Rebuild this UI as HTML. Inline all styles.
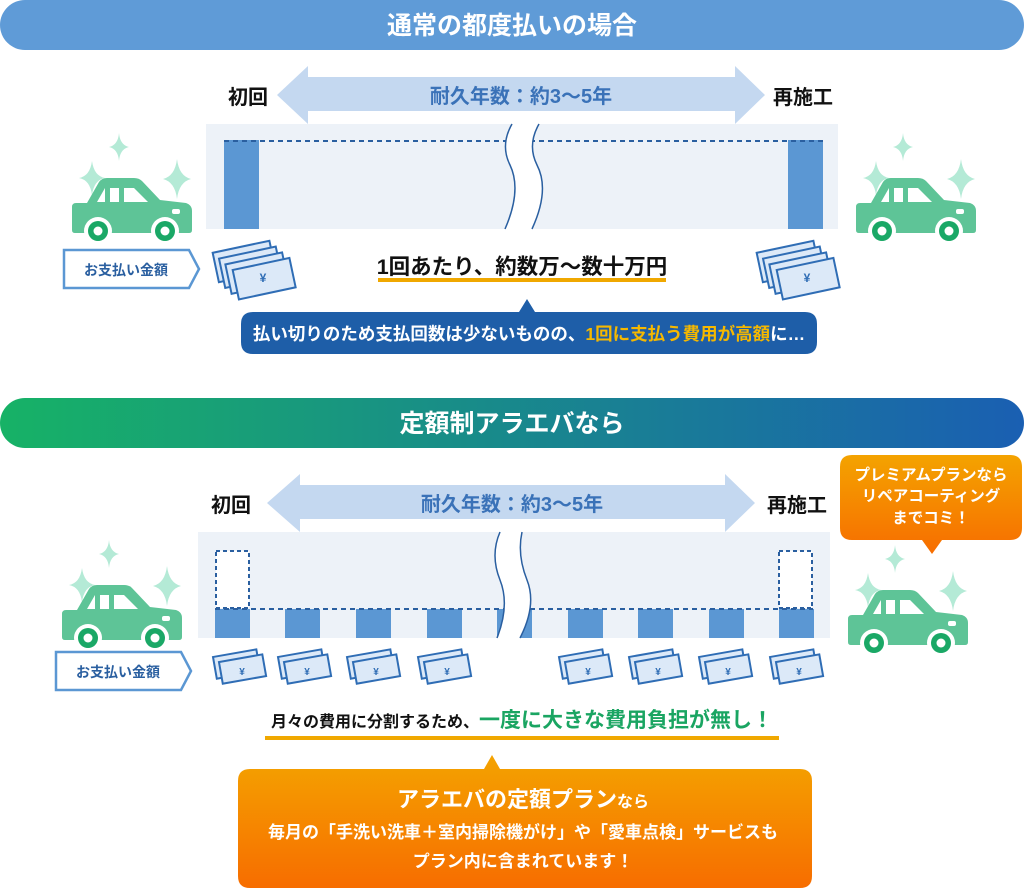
<!DOCTYPE html>
<html><head><meta charset="utf-8"><style>
html,body{margin:0;padding:0;background:#fff;width:1024px;height:889px;overflow:hidden}
text{font-family:"Liberation Sans","Noto Sans CJK JP",sans-serif;font-weight:bold}
</style></head><body>
<svg width="1024" height="889" viewBox="0 0 1024 889" xmlns="http://www.w3.org/2000/svg">
<defs>
<linearGradient id="g2" x1="0" x2="1" y1="0" y2="0"><stop offset="0" stop-color="#17b266"/><stop offset="1" stop-color="#1a5fb2"/></linearGradient>
<linearGradient id="go" x1="0" x2="0" y1="0" y2="1"><stop offset="0" stop-color="#f4a300"/><stop offset="1" stop-color="#f76d00"/></linearGradient>
<g id="car">
<path d="M20,28 Q22,43 33,45 Q22,47 20,62 Q18,47 7,45 Q18,43 20,28Z" fill="#b4ead6"/>
<path d="M47,0 Q48,12 57,14 Q48,16 47,28 Q46,16 37,14 Q46,12 47,0Z" fill="#b4ead6"/>
<path d="M105,26 Q107,43 119,46 Q107,49 105,66 Q103,49 91,46 Q103,43 105,26Z" fill="#b4ead6"/>
<path d="M0,74 Q0,70 4,70 L15,70 L27,49 Q30,45 35,45 L62,45 Q67,45 70,48 L88,67 L114,70 Q120,72 120,78 L120,97 Q120,100 117,100 L3,100 Q0,100 0,97Z" fill="#5ec497"/>
<path d="M25,69 L33,55 L33,69Z M38,55 L47,55 L47,69 L38,69Z M52,55 L62,55 L76,69 L52,69Z" fill="#fff"/>
<rect x="100" y="76" width="8" height="5" rx="2" fill="#fff"/>
<circle cx="26" cy="98" r="14" fill="#fff"/><circle cx="26" cy="98" r="10" fill="#1aa866"/><circle cx="26" cy="98" r="4.5" fill="#fff"/>
<circle cx="93" cy="98" r="14" fill="#fff"/><circle cx="93" cy="98" r="10" fill="#1aa866"/><circle cx="93" cy="98" r="4.5" fill="#fff"/>
</g>
</defs>

<!-- Section 1 -->
<rect x="0" y="0" width="1024" height="50" rx="25" fill="#5f9bd7"/>
<text x="512" y="34" font-size="25" fill="#fff" text-anchor="middle">通常の都度払いの場合</text>

<path d="M277,95 L308,66 L308,77 L735,77 L735,66 L765,95 L735,124 L735,111 L308,111 L308,124Z" fill="#c4d8f0"/>
<text x="521" y="103" font-size="20" fill="#3a72b8" text-anchor="middle">耐久年数：約3〜5年</text>
<text x="248" y="104" font-size="20" fill="#111" text-anchor="middle">初回</text>
<text x="803" y="104" font-size="20" fill="#111" text-anchor="middle">再施工</text>

<rect x="206" y="124" width="632" height="105" fill="#edf2f8"/>
<rect x="224" y="140" width="35" height="89" fill="#5b97d3"/>
<rect x="788" y="140" width="35" height="89" fill="#5b97d3"/>
<line x1="224" y1="141" x2="823" y2="141" stroke="#2a5fa0" stroke-width="2" stroke-dasharray="5,4"/>
<path d="M512,124 Q500,145 510,165 Q522,190 505,229 L532,229 Q550,190 537,165 Q527,145 539,124Z" fill="#fff"/>
<path d="M512,124 Q500,145 510,165 Q522,190 505,229 M539,124 Q527,145 537,165 Q550,190 532,229" fill="none" stroke="#2a5fa0" stroke-width="1.5"/>

<use href="#car" x="72" y="133"/>
<use href="#car" x="856" y="133"/>

<path d="M64,250 L189,250 L199,269 L189,288 L64,288Z" fill="#fff" stroke="#5b97d3" stroke-width="2.5"/>
<text x="126" y="275" font-size="14" fill="#2a5fa0" text-anchor="middle">お支払い金額</text>

<g transform="translate(211,245) rotate(-12)" fill="#dce9f8" stroke="#2f6db5" stroke-width="2">
<rect x="0" y="8" width="58" height="30"/><rect x="5" y="15" width="58" height="30"/><rect x="10" y="22" width="58" height="30"/><rect x="16" y="29" width="58" height="30"/></g>
<text x="263" y="282" font-size="12" fill="#2f6db5" text-anchor="middle">¥</text>
<g transform="translate(755,245) rotate(-12)" fill="#dce9f8" stroke="#2f6db5" stroke-width="2">
<rect x="0" y="8" width="58" height="30"/><rect x="5" y="15" width="58" height="30"/><rect x="10" y="22" width="58" height="30"/><rect x="16" y="29" width="58" height="30"/></g>
<text x="807" y="282" font-size="12" fill="#2f6db5" text-anchor="middle">¥</text>

<text x="522" y="274" font-size="21.5" fill="#111" text-anchor="middle">1回あたり、約数万〜数十万円</text>
<rect x="378" y="278" width="288" height="4" fill="#f0a800"/>

<path d="M253,312 L519,312 L527,299 L535,312 L805,312 Q817,312 817,324 L817,342 Q817,354 805,354 L253,354 Q241,354 241,342 L241,324 Q241,312 253,312Z" fill="#1e5ea8"/>
<text x="529" y="340" font-size="17.5" fill="#fff" text-anchor="middle">払い切りのため支払回数は少ないものの、<tspan fill="#f5b800">1回に支払う費用が高額</tspan>に…</text>

<!-- Section 2 -->
<rect x="0" y="398" width="1024" height="50" rx="25" fill="url(#g2)"/>
<text x="512" y="432" font-size="25" fill="#fff" text-anchor="middle">定額制アラエバなら</text>

<path d="M267,503 L300,474 L300,485 L725,485 L725,474 L755,503 L725,532 L725,519 L300,519 L300,532Z" fill="#c4d8f0"/>
<text x="512" y="511" font-size="20" fill="#3a72b8" text-anchor="middle">耐久年数：約3〜5年</text>
<text x="231" y="512" font-size="20" fill="#111" text-anchor="middle">初回</text>
<text x="797" y="512" font-size="20" fill="#111" text-anchor="middle">再施工</text>

<rect x="198" y="532" width="632" height="106" fill="#edf2f8"/>
<rect x="216" y="551" width="33" height="57" fill="#fff" stroke="#2a5fa0" stroke-width="2" stroke-dasharray="4,3"/>
<rect x="779" y="551" width="33" height="57" fill="#fff" stroke="#2a5fa0" stroke-width="2" stroke-dasharray="4,3"/>
<g fill="#5b97d3">
<rect x="215" y="609" width="35" height="29"/><rect x="285" y="609" width="35" height="29"/><rect x="356" y="609" width="35" height="29"/><rect x="427" y="609" width="35" height="29"/><rect x="497" y="609" width="35" height="29"/><rect x="568" y="609" width="35" height="29"/><rect x="638" y="609" width="35" height="29"/><rect x="709" y="609" width="35" height="29"/><rect x="779" y="609" width="35" height="29"/></g>
<line x1="215" y1="609" x2="813" y2="609" stroke="#2a5fa0" stroke-width="2" stroke-dasharray="5,4"/>
<path d="M500,532 Q490,555 500,580 Q510,605 497,638 L520,638 Q537,605 527,580 Q517,555 522,532Z" fill="#fff"/>
<path d="M500,532 Q490,555 500,580 Q510,605 497,638 M522,532 Q517,555 527,580 Q537,605 520,638" fill="none" stroke="#2a5fa0" stroke-width="1.5"/>

<use href="#car" x="62" y="540"/>
<use href="#car" x="848" y="545"/>

<path d="M852,455 L1010,455 Q1022,455 1022,467 L1022,528 Q1022,540 1010,540 L942,540 L932,554 L922,540 L852,540 Q840,540 840,528 L840,467 Q840,455 852,455Z" fill="url(#go)"/>
<text x="931" y="480" font-size="15.5" fill="#fff" text-anchor="middle">プレミアムプランなら</text>
<text x="931" y="501" font-size="15.5" fill="#fff" text-anchor="middle">リペアコーティング</text>
<text x="931" y="523" font-size="15.5" fill="#fff" text-anchor="middle">までコミ！</text>

<path d="M56,652 L181,652 L191,671 L181,690 L56,690Z" fill="#fff" stroke="#5b97d3" stroke-width="2.5"/>
<text x="118" y="677" font-size="14" fill="#2a5fa0" text-anchor="middle">お支払い金額</text>

<g fill="#dce9f8" stroke="#2f6db5" stroke-width="2">
<g transform="translate(213,657) rotate(-10)"><rect x="0" y="0" width="44" height="22"/><rect x="5" y="6" width="44" height="22"/></g>
<g transform="translate(278,657) rotate(-10)"><rect x="0" y="0" width="44" height="22"/><rect x="5" y="6" width="44" height="22"/></g>
<g transform="translate(347,657) rotate(-10)"><rect x="0" y="0" width="44" height="22"/><rect x="5" y="6" width="44" height="22"/></g>
<g transform="translate(418,657) rotate(-10)"><rect x="0" y="0" width="44" height="22"/><rect x="5" y="6" width="44" height="22"/></g>
<g transform="translate(559,657) rotate(-10)"><rect x="0" y="0" width="44" height="22"/><rect x="5" y="6" width="44" height="22"/></g>
<g transform="translate(629,657) rotate(-10)"><rect x="0" y="0" width="44" height="22"/><rect x="5" y="6" width="44" height="22"/></g>
<g transform="translate(699,657) rotate(-10)"><rect x="0" y="0" width="44" height="22"/><rect x="5" y="6" width="44" height="22"/></g>
<g transform="translate(770,657) rotate(-10)"><rect x="0" y="0" width="44" height="22"/><rect x="5" y="6" width="44" height="22"/></g>
</g>
<g font-size="10" fill="#2f6db5" text-anchor="middle">
<text x="242" y="675">¥</text><text x="307" y="675">¥</text><text x="376" y="675">¥</text><text x="447" y="675">¥</text><text x="588" y="675">¥</text><text x="658" y="675">¥</text><text x="728" y="675">¥</text><text x="799" y="675">¥</text></g>

<text x="522" y="727" font-size="16" fill="#111" text-anchor="middle">月々の費用に分割するため、<tspan font-size="21" fill="#1aa562">一度に大きな費用負担が無し！</tspan></text>
<rect x="265" y="736" width="514" height="4" fill="#f0a800"/>

<path d="M250,769 L484,769 L492,755 L500,769 L800,769 Q812,769 812,781 L812,876 Q812,888 800,888 L250,888 Q238,888 238,876 L238,781 Q238,769 250,769Z" fill="url(#go)"/>
<text x="523" y="807" font-size="22" fill="#fff" text-anchor="middle">アラエバの定額プラン<tspan font-size="16">なら</tspan></text>
<text x="523" y="838" font-size="17" fill="#fff" text-anchor="middle">毎月の「手洗い洗車＋室内掃除機がけ」や「愛車点検」サービスも</text>
<text x="523" y="867" font-size="17" fill="#fff" text-anchor="middle">プラン内に含まれています！</text>
</svg>
</body></html>
